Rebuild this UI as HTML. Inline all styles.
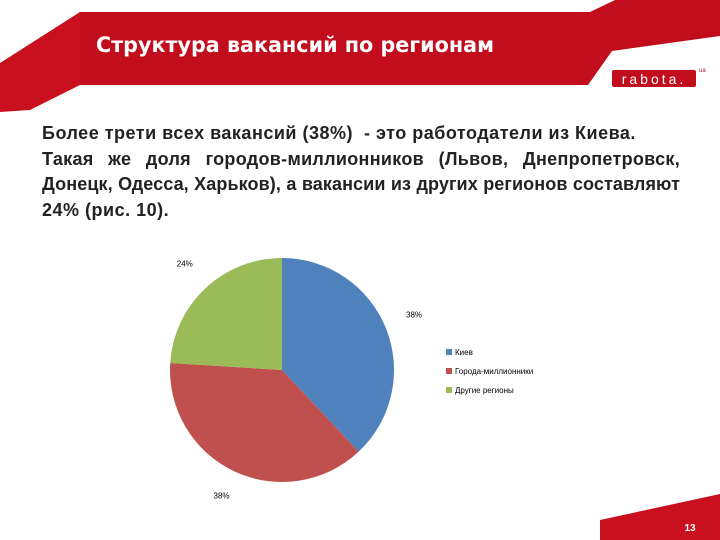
<!DOCTYPE html>
<html><head><meta charset="utf-8"><style>
body{margin:0;width:720px;height:540px;background:#fff;position:relative;overflow:hidden;font-family:"Liberation Sans","DejaVu Sans",sans-serif}
.t{position:absolute;left:42px;top:121px;width:638px;font-size:18px;line-height:25.5px;color:#222;font-weight:bold;letter-spacing:0.5px}
.t div{text-align:justify;text-align-last:justify;white-space:nowrap}
.t div.l{text-align-last:left}
</style></head><body>
<svg width="720" height="540" style="position:absolute;left:0;top:0">
<polygon points="0,63 80,12 80,85 30,110 0,112" fill="#c8101e"/>
<polygon points="80,12 590,12 615,0 720,0 720,36 612,51 588,85 80,85" fill="#c20d1c"/>
<rect x="612" y="70" width="84" height="17" rx="2" fill="#c20d1c"/>
<text x="654" y="84" font-size="14" fill="#fff" text-anchor="middle" letter-spacing="3" font-family="Liberation Sans">rabota.</text>
<text x="699" y="72" font-size="6" fill="#c20d1c">ua</text>
<polygon points="600,520 720,494 720,540 600,540" fill="#c8101e"/>
<text x="690" y="531" font-size="10" fill="#fff" font-weight="bold" text-anchor="middle">13</text>
<text x="96" y="52" font-size="21" fill="#fff" font-weight="bold" font-family="DejaVu Sans" textLength="398" lengthAdjust="spacingAndGlyphs">Структура вакансий по регионам</text>
</svg>
<div class="t">
<div class="l">Более трети всех вакансий (38%)&nbsp; - это работодатели из Киева.</div>
<div style="letter-spacing:0.3px">Такая же доля городов-миллионников (Львов, Днепропетровск,</div>
<div style="letter-spacing:0.1px">Донецк, Одесса, Харьков), а вакансии из других регионов составляют</div>
<div class="l">24% (рис. 10).</div>
</div>
<svg id="chart" width="720" height="540" style="position:absolute;left:0;top:0"></svg>
<script>
const categories=["Киев","Города-миллионники","Другие регионы"];
const values=[38,38,24];
const labels=["38%","38%","24%"];
const colors=["#4f81bd","#c0504d","#9bbb59"];
const svg=document.getElementById('chart');const NS='http://www.w3.org/2000/svg';
const cx=282,cy=370,r=112;
const total=values.reduce((a,b)=>a+b,0);
function pt(a,rr){return [cx+rr*Math.sin(a),cy-rr*Math.cos(a)];}
let a0=0;
values.forEach((v,i)=>{
 const a1=a0+v/total*2*Math.PI;
 const p0=pt(a0,r),p1=pt(a1,r);
 const p=document.createElementNS(NS,'path');
 p.setAttribute('d',`M${cx},${cy}L${p0[0]},${p0[1]}A${r},${r} 0 ${a1-a0>Math.PI?1:0} 1 ${p1[0]},${p1[1]}Z`);
 p.setAttribute('fill',colors[i]);
 
 
 svg.appendChild(p);
 const m=(a0+a1)/2;const lp=pt(m,r+30);
 const t=document.createElementNS(NS,'text');
 t.setAttribute('x',lp[0]);t.setAttribute('y',lp[1]);t.setAttribute('font-size','8');t.setAttribute('text-anchor','middle');
 t.textContent=labels[i];
 
 
 svg.appendChild(t);
 const r2=document.createElementNS(NS,'rect');
 r2.setAttribute('x',446);r2.setAttribute('y',349+i*19);r2.setAttribute('width',6);r2.setAttribute('height',6);r2.setAttribute('fill',colors[i]);
 
 
 svg.appendChild(r2);
 const lt=document.createElementNS(NS,'text');
 lt.setAttribute('x',455);lt.setAttribute('y',355+i*19);lt.setAttribute('font-size','8');
 lt.textContent=categories[i];
 
 
 svg.appendChild(lt);
 a0=a1;
});
</script>
</body></html>
